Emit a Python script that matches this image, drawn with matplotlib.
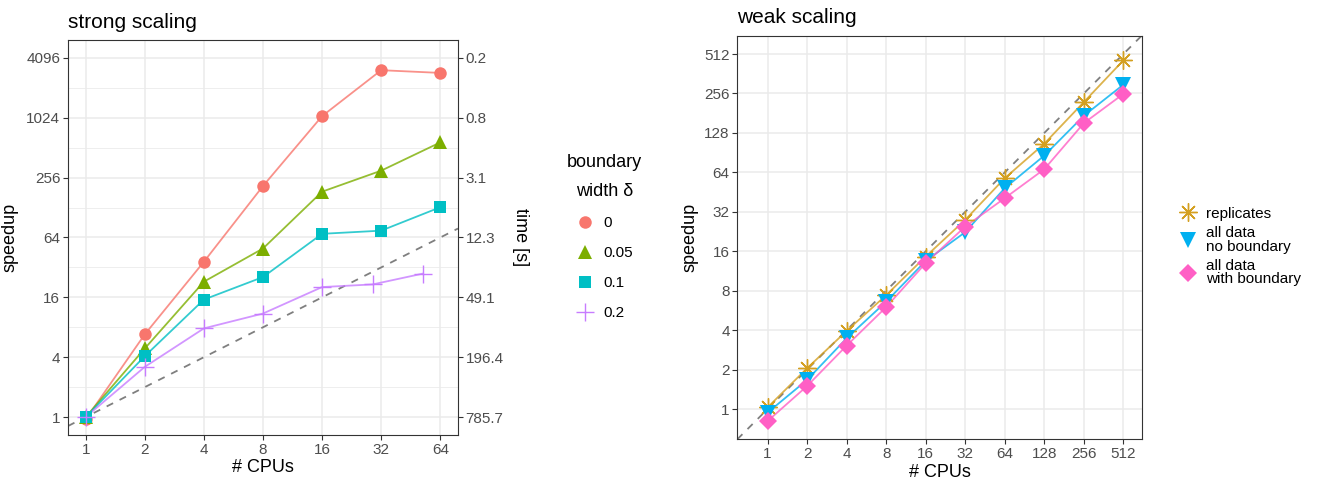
import matplotlib
matplotlib.use("Agg")
import matplotlib.pyplot as plt
from matplotlib.lines import Line2D
import numpy as np

plt.rcParams['font.family'] = ['Liberation Sans', 'DejaVu Sans']

# ---- strong scaling data ----
cpus_strong = [1, 2, 4, 8, 16, 32, 64]
cpus_strong_02 = [1, 2, 4, 8, 16, 29, 52]
speedup_0 = [0.95, 6.8, 36.5, 211, 1065, 3085, 2896]
speedup_005 = [1.0, 4.9, 23, 49.6, 185, 301, 579]
speedup_01 = [1.0, 4.1, 15.2, 25.6, 69.7, 75, 129]
speedup_02 = [1.0, 3.2, 7.8, 11, 20.3, 21.6, 27.7]
time_1cpu = 785.7
strong_yticks = [1, 4, 16, 64, 256, 1024, 4096]
widths = ['0', '0.05', '0.1', '0.2']

# ---- weak scaling data ----
cpus_weak = [1, 2, 4, 8, 16, 32, 64, 128, 256, 512]
replicates = [1.03, 2.05, 3.95, 7.4, 14.6, 27.8, 57.8, 106, 220, 458]
no_boundary = [0.94, 1.67, 3.47, 6.6, 13.5, 22.4, 48.5, 86, 173, 299]
with_boundary = [0.81, 1.5, 3.05, 6.0, 13.0, 24.7, 40.7, 67.7, 152, 254]
weak_labels = ['replicates', 'all data\nno boundary', 'all data\nwith boundary']

W, H = 1317, 484
fig = plt.figure(figsize=(W / 100, H / 100), dpi=100)

tick_col = '#4D4D4D'
grid_col = '#EBEBEB'


def style(ax):
    ax.set_xscale('log', base=2)
    ax.set_yscale('log', base=2)
    for s in ax.spines.values():
        s.set_color('#333333')
        s.set_linewidth(0.8)
    ax.grid(True, which='major', color=grid_col, linewidth=1.1, zorder=0)
    ax.set_axisbelow(True)
    ax.tick_params(which='major', length=3.5, width=0.8, color='#333333',
                   labelsize=11, labelcolor=tick_col, pad=2)
    ax.tick_params(which='minor', length=0)


# ---- left panel ----
ax = fig.add_axes([68 / W, 1 - 435 / H, 390 / W, 395 / H])
style(ax)
ax.set_xlim(2 ** -0.3, 2 ** 6.3)
ax.set_ylim(2 ** -0.6, 2 ** 12.6)
ax.set_xticks(cpus_strong)
ax.set_xticklabels([str(c) for c in cpus_strong])
ax.set_yticks(strong_yticks)
ax.set_yticklabels([str(v) for v in strong_yticks])
minor_y = [v * 2 for v in strong_yticks[:-1]]
for m in minor_y:
    ax.axhline(m, color=grid_col, linewidth=0.6, zorder=0)
ax.axline((1, 1), (2, 2), color='#7F7F7F', linestyle=(0, (4, 4)), linewidth=1.3, zorder=1)

strong_cols = ['#F8766D', '#7CAE00', '#00BFC4', '#C77CFF']
strong_marks = [('o', 9), ('^', 9.5), ('s', 8), ('+', 13)]
strong_series = [(cpus_strong, speedup_0), (cpus_strong, speedup_005),
                 (cpus_strong, speedup_01), (cpus_strong_02, speedup_02)]
for (xs, ys), c, (mk, ms) in zip(strong_series, strong_cols, strong_marks):
    ax.plot(xs, ys, color=c, linewidth=1.3, alpha=0.8, zorder=2)
    ax.plot(xs, ys, linestyle='none', marker=mk, markersize=ms, color=c,
            markeredgewidth=1.0 if mk == '+' else 0, zorder=3)

ax.set_title('strong scaling', loc='left', fontsize=15, pad=9)
ax.set_xlabel('# CPUs', fontsize=13, labelpad=2)
ax.set_ylabel('speedup', fontsize=13, labelpad=6)

ax2 = ax.twinx()
ax2.set_yscale('log', base=2)
ax2.set_ylim(ax.get_ylim())
ax2.set_yticks(strong_yticks)
ax2.set_yticklabels(['%.1f' % (time_1cpu / v) for v in strong_yticks])
ax2.tick_params(which='major', length=3.5, width=0.8, color='#333333',
                labelsize=11, labelcolor=tick_col, pad=2)
ax2.tick_params(which='minor', length=0)
ax2.set_ylabel('time [s]', fontsize=13, rotation=270, labelpad=18)
for s in ax2.spines.values():
    s.set_visible(False)

handles = [Line2D([], [], linestyle='none', marker=mk, markersize=ms, color=c,
                  markeredgewidth=1.0 if mk == '+' else 0)
           for c, (mk, ms) in zip(strong_cols, strong_marks)]
leg = fig.legend(handles, widths, title='boundary\nwidth δ', loc='upper left',
                 bbox_to_anchor=(553 / W, 1 - 140 / H), frameon=False, fontsize=11,
                 title_fontsize=13, labelspacing=1.05, handlelength=1.2,
                 handletextpad=0.6)
leg.get_title().set_multialignment('center')
leg.get_title().set_linespacing(1.95)

# ---- right panel ----
bx = fig.add_axes([737.3 / W, 1 - 439.3 / H, 404.4 / W, 403.6 / H])
style(bx)
bx.set_xlim(2 ** -0.765, 2 ** 9.465)
bx.set_ylim(2 ** -0.765, 2 ** 9.465)
bx.set_xticks(cpus_weak)
bx.set_xticklabels([str(c) for c in cpus_weak])
bx.set_yticks(cpus_weak)
bx.set_yticklabels([str(c) for c in cpus_weak])
bx.axline((1, 1), (2, 2), color='#7F7F7F', linestyle=(0, (4, 4)), linewidth=1.3, zorder=1)

weak_cols = ['#D4A020', '#00B0F0', '#FF5FC5']
weak_marks = [((8, 2, 0), 13), ('v', 11), ('D', 9)]
weak_series = [replicates, no_boundary, with_boundary]
for ys, c, (mk, ms) in zip(weak_series, weak_cols, weak_marks):
    bx.plot(cpus_weak, ys, color=c, linewidth=1.3, alpha=0.8, zorder=2)
    bx.plot(cpus_weak, ys, linestyle='none', marker=mk, markersize=ms, color=c,
            markeredgewidth=1.0 if mk == (8, 2, 0) else 0, zorder=3)

bx.set_title('weak scaling', loc='left', fontsize=15, pad=9)
bx.set_xlabel('# CPUs', fontsize=13, labelpad=2)
bx.set_ylabel('speedup', fontsize=13, labelpad=4)

handles = [Line2D([], [], linestyle='none', marker=mk, markersize=ms, color=c,
                  markeredgewidth=1.0 if mk == (8, 2, 0) else 0)
           for c, (mk, ms) in zip(weak_cols, weak_marks)]
leg2 = fig.legend(handles, weak_labels, loc='upper left',
                  bbox_to_anchor=(1165 / W, 1 - 193 / H), frameon=False, fontsize=11,
                  labelspacing=0.35, handlelength=1.2, handletextpad=0.6)
for t in leg2.get_texts():
    t.set_linespacing(0.95)

fig.savefig('out.png', dpi=100)
